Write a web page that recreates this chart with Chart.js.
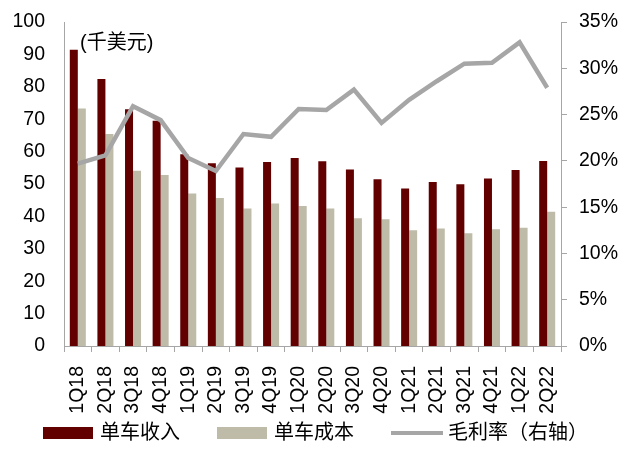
<!DOCTYPE html>
<html>
<head>
<meta charset="utf-8">
<script src="https://cdn.jsdelivr.net/npm/chart.js@4/dist/chart.umd.min.js"></script>
<style>
  html, body { margin: 0; padding: 0; background: #ffffff; }
  #wrap { width: 640px; height: 456px; position: relative; }
</style>
</head>
<body>
<div id="wrap"><canvas id="c" width="640" height="456"></canvas></div>
<script>
const categories = ["1Q18","2Q18","3Q18","4Q18","1Q19","2Q19","3Q19","4Q19","1Q20","2Q20","3Q20","4Q20","1Q21","2Q21","3Q21","4Q21","1Q22","2Q22"];
const revenuePerCar = [91.4, 82.4, 73.1, 69.5, 59.2, 56.4, 55.1, 56.8, 58.0, 57.0, 54.5, 51.5, 48.6, 50.6, 49.9, 51.7, 54.3, 57.1];
const costPerCar = [73.3, 65.4, 54.1, 52.8, 47.1, 45.7, 42.4, 44.0, 43.2, 42.4, 39.4, 39.1, 35.7, 36.3, 34.8, 36.0, 36.5, 41.4];
const grossMargin = [19.7, 20.6, 25.9, 24.4, 20.3, 18.9, 22.9, 22.6, 25.6, 25.5, 27.7, 24.1, 26.6, 28.6, 30.5, 30.6, 32.8, 27.9];
const leftTicks = [0, 10, 20, 30, 40, 50, 60, 70, 80, 90, 100];
const rightTicks = [0, 5, 10, 15, 20, 25, 30, 35];
const seriesNames = ["单车收入", "单车成本", "毛利率（右轴）"];
const unitLabel = "(千美元)";

const FONT = "'Liberation Sans', Arial, 'Noto Sans CJK SC', sans-serif";
const RED = "#620000";
const GRAY_BAR = "#bebba9";
const LINE = "#a6a6a6";
const AXIS = "#a6a6a6";

const customLegend = {
  id: 'customLegend',
  afterDraw(chart) {
    const ctx = chart.ctx;
    ctx.save();
    ctx.font = "20px " + FONT;
    ctx.textBaseline = 'middle';
    ctx.textAlign = 'left';
    const cy = 433;
    let x = 43;
    const ds = chart.data.datasets;
    [0, 1, 2].forEach((i) => {
      const d = ds[i];
      if (d.type === 'line') {
        ctx.strokeStyle = d.borderColor;
        ctx.lineWidth = 4;
        ctx.beginPath();
        ctx.moveTo(x, cy);
        ctx.lineTo(x + 52, cy);
        ctx.stroke();
        x += 52 + 5;
      } else {
        ctx.fillStyle = d.backgroundColor;
        ctx.fillRect(x, cy - 6, 50, 12);
        x += 50 + 7;
      }
      ctx.fillStyle = '#000000';
      ctx.fillText(d.label, x, cy);
      x += ctx.measureText(d.label).width + 37;
    });
    ctx.fillStyle = '#000000';
    ctx.fillText(unitLabel, 80, 43);
    ctx.restore();
  }
};

function fixV(width) {
  return function (s) { s.width = width; s.paddingTop = 0; s.paddingBottom = 0; };
}

new Chart(document.getElementById('c'), {
  data: {
    labels: categories,
    datasets: [
      { type: 'bar', label: seriesNames[0], data: revenuePerCar, backgroundColor: RED, yAxisID: 'y', order: 1,
        categoryPercentage: 0.58, barPercentage: 1.0 },
      { type: 'bar', label: seriesNames[1], data: costPerCar, backgroundColor: GRAY_BAR, yAxisID: 'y', order: 1,
        categoryPercentage: 0.58, barPercentage: 1.0 },
      { type: 'line', label: seriesNames[2], data: grossMargin, borderColor: LINE, backgroundColor: LINE,
        borderWidth: 4.5, pointRadius: 0, tension: 0, yAxisID: 'y1', order: 0 }
    ]
  },
  options: {
    responsive: false,
    animation: false,
    layout: { padding: { top: 22, bottom: 40, left: 0, right: 0 } },
    plugins: { legend: { display: false }, tooltip: { enabled: false } },
    scales: {
      x: {
        offset: true,
        grid: { drawOnChartArea: false, drawTicks: true, tickLength: 6, color: AXIS, offset: true },
        border: { display: true, color: AXIS, width: 1 },
        ticks: { color: '#000', font: { family: FONT, size: 19.5 }, minRotation: 90, maxRotation: 90, padding: 14, autoSkip: false },
        afterFit(s) { s.height = 70; s.paddingLeft = 0; s.paddingRight = 0; }
      },
      y: {
        position: 'left',
        min: 0, max: 100,
        afterBuildTicks(s) { s.ticks = leftTicks.map(v => ({ value: v })); },
        grid: { display: false, drawTicks: false },
        border: { display: true, color: AXIS, width: 1 },
        ticks: { color: '#000', font: { family: FONT, size: 19.5 }, padding: 19 },
        afterFit: fixV(64)
      },
      y1: {
        position: 'right',
        min: 0, max: 35,
        afterBuildTicks(s) { s.ticks = rightTicks.map(v => ({ value: v })); },
        grid: { drawOnChartArea: false, drawTicks: true, tickLength: 6, color: AXIS },
        border: { display: true, color: AXIS, width: 1 },
        ticks: { color: '#000', font: { family: FONT, size: 19.5 }, padding: 12, callback: (v) => v + '%' },
        afterFit: fixV(79)
      }
    }
  },
  plugins: [customLegend]
});
</script>
</body>
</html>
